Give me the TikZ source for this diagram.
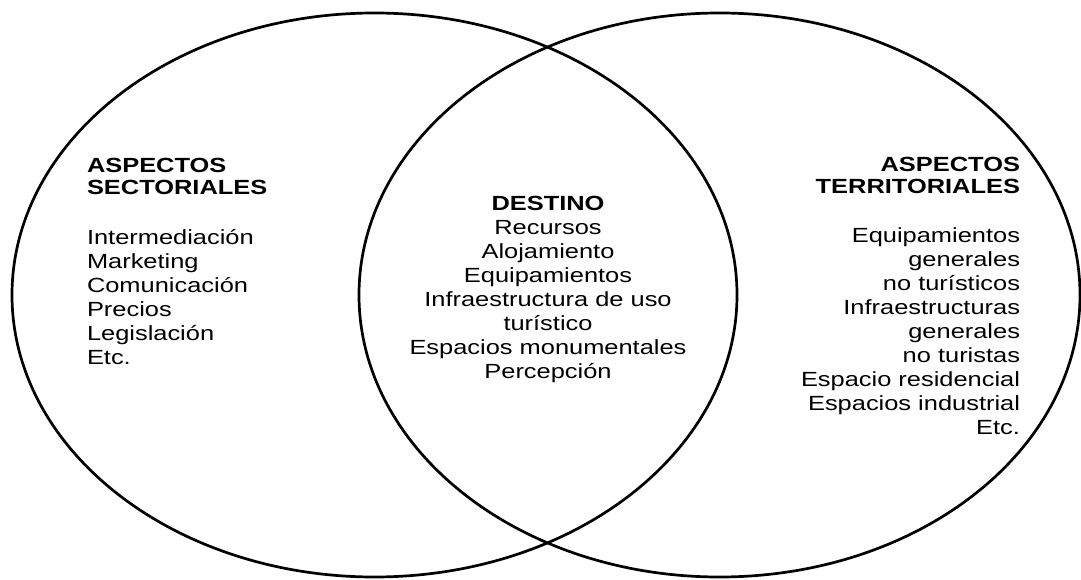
\documentclass[tikz,border=0pt]{standalone}
\usepackage{fontspec}
\setmainfont{Liberation Sans}[FakeStretch=1.24]
\usetikzlibrary{positioning}

\begin{document}
\begin{tikzpicture}[
x=1pt, y=1pt,
font=\fontsize{20.5}{24}\selectfont,
conjunto/.style={line width=2.7pt},
bloque/.style={inner sep=0pt, outer sep=0pt}
]
    % Fix the page
    \useasboundingbox (0,0) rectangle (1081,579);

    % Draw both sets
    \draw[conjunto] (374.5,284) ellipse [x radius=362.5, y radius=282];
    \draw[conjunto] (719.5,284) ellipse [x radius=360.5, y radius=282];

    \node[bloque, anchor=north west, align=left] (sectoriales) at (87,420.7)
        {\textbf{ASPECTOS}\\[-2pt]\textbf{SECTORIALES}\\[26pt]
        Intermediación\\Marketing\\Comunicación\\Precios\\Legislación\\Etc.};

    \node[bloque, anchor=north, align=center] (destino) at (548,382.7)
        {\textbf{DESTINO}\\Recursos\\Alojamiento\\Equipamientos\\
        Infraestructura de uso\\turístico\\Espacios monumentales\\Percepción};

    \node[bloque, anchor=north east, align=right] (territoriales) at (1020,421.7)
        {\textbf{ASPECTOS}\\[-2pt]\textbf{TERRITORIALES}\\[25pt]
        Equipamientos\\generales\\no turísticos\\Infraestructuras\\generales\\
        no turistas\\Espacio residencial\\Espacios industrial\\Etc.};

\end{tikzpicture}
\end{document}
